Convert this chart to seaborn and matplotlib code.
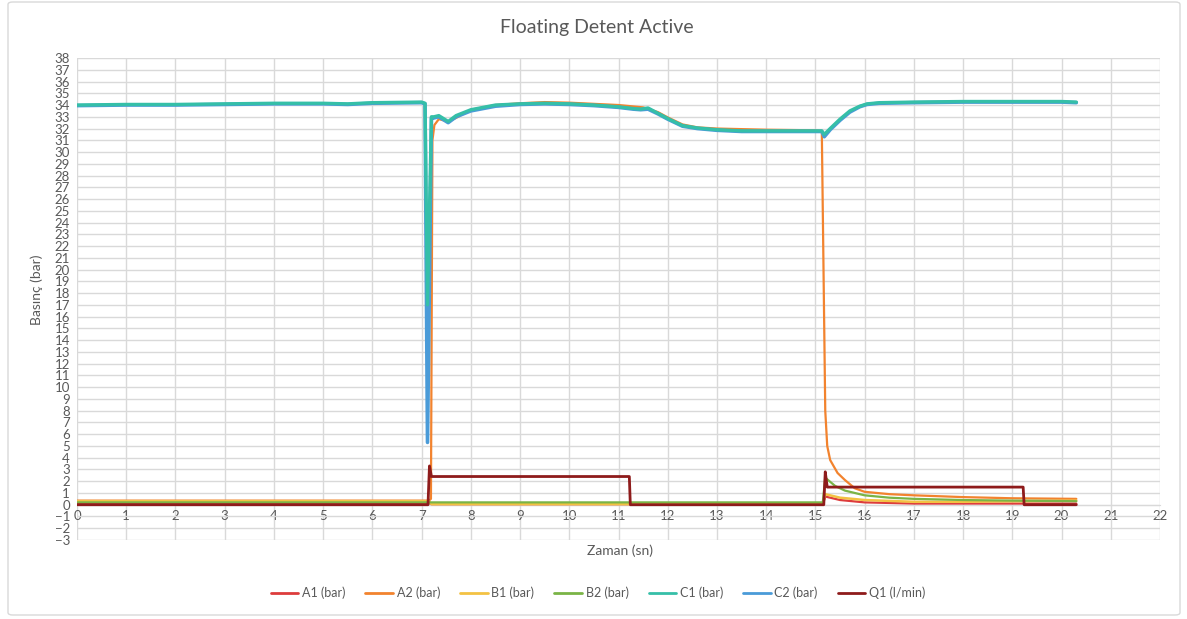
import numpy as np
import pandas as pd
import matplotlib
matplotlib.use("Agg")
import matplotlib.pyplot as plt
import seaborn as sns
from matplotlib.patches import FancyBboxPatch

# ---- data ----
t_c = [0, 1, 2, 3, 4, 5, 5.5, 6, 7.0, 7.07, 7.12, 7.2, 7.25, 7.35, 7.54, 7.7,
       8.0, 8.5, 9.0, 9.5, 10.0, 10.5, 11.0, 11.3, 11.45, 11.6, 11.8, 12.0,
       12.3, 12.6, 13.0, 13.5, 14.0, 14.5, 15.0, 15.13, 15.18, 15.3, 15.5,
       15.7, 15.9, 16.05, 16.3, 17, 18, 19, 20, 20.3]
c2_vals = [33.95, 34.0, 34.0, 34.05, 34.1, 34.1, 34.05, 34.15, 34.2, 34.1, 5.3, 32.9,
           32.9, 33.0, 32.5, 33.0, 33.5, 33.9, 34.05, 34.1, 34.05, 33.95, 33.8,
           33.65, 33.6, 33.65, 33.25, 32.8, 32.2, 32.0, 31.85, 31.75, 31.75,
           31.75, 31.75, 31.75, 31.3, 31.9, 32.7, 33.4, 33.85, 34.05, 34.15,
           34.2, 34.25, 34.25, 34.25, 34.2]
c1_vals = [34.0, 34.05, 34.05, 34.1, 34.15, 34.15, 34.1, 34.2, 34.25, 34.15, 17.0, 33.0,
           33.0, 33.1, 32.6, 33.1, 33.6, 34.0, 34.1, 34.15, 34.1, 34.0, 33.85,
           33.7, 33.65, 33.75, 33.3, 32.85, 32.25, 32.05, 31.9, 31.8, 31.8,
           31.8, 31.8, 31.8, 31.5, 32.0, 32.8, 33.5, 33.9, 34.1, 34.2,
           34.25, 34.3, 34.3, 34.3, 34.25]

t_a2 = [0, 7.15, 7.19, 7.22, 7.26, 7.35, 7.54, 7.7, 8.0, 8.5, 9.0, 9.5, 10, 10.5,
        11, 11.5, 11.8, 12.0, 12.3, 12.6, 13, 13.5, 14, 15, 15.13, 15.2, 15.24,
        15.3, 15.45, 15.6, 15.8, 16.0, 16.5, 17, 18, 19, 20.3]
a2_vals = [0.35, 0.35, 0.5, 31.0, 32.3, 32.8, 32.6, 32.9, 33.6, 34.0, 34.15, 34.25,
           34.2, 34.1, 34.0, 33.8, 33.4, 32.95, 32.35, 32.1, 32.0, 31.95, 31.9,
           31.85, 31.8, 8.0, 5.0, 3.8, 2.7, 2.1, 1.4, 1.1, 0.9, 0.8, 0.65, 0.55, 0.5]

t_a1 = [0, 7.15, 7.2, 15.15, 15.2, 15.5, 16.0, 17.0, 20.3]
a1_vals = [0.15, 0.15, 0.05, 0.05, 0.7, 0.4, 0.2, 0.1, 0.1]

t_b1 = [0, 7.15, 7.2, 15.15, 15.2, 15.5, 16.0, 17.0, 18.0, 20.3]
b1_vals = [0.3, 0.3, 0.05, 0.05, 0.9, 0.6, 0.4, 0.25, 0.25, 0.35]

t_b2 = [0, 7.15, 7.2, 15.15, 15.2, 15.4, 15.6, 16.0, 16.5, 17, 18, 19, 20.3]
b2_vals = [0.2, 0.2, 0.2, 0.2, 2.3, 1.6, 1.2, 0.8, 0.6, 0.5, 0.4, 0.35, 0.3]

t_q1 = [0, 7.13, 7.16, 7.2, 11.22, 11.24, 15.17, 15.2, 15.24, 19.22, 19.24, 20.3]
q1_vals = [0, 0, 3.3, 2.4, 2.4, 0, 0, 2.8, 1.5, 1.5, 0, 0]

series = ["A1 (bar)", "A2 (bar)", "B1 (bar)", "B2 (bar)", "C1 (bar)", "C2 (bar)", "Q1 (l/min)"]
colors = ["#DD3C3C", "#F2832E", "#F3C243", "#7AB446", "#35BFA8", "#4A9BD8", "#8E1B1B"]
x_ticks = list(range(0, 23))
y_ticks = list(range(-3, 39))

data = {
    "A1 (bar)": (t_a1, a1_vals),
    "A2 (bar)": (t_a2, a2_vals),
    "B1 (bar)": (t_b1, b1_vals),
    "B2 (bar)": (t_b2, b2_vals),
    "C1 (bar)": (t_c, c1_vals),
    "C2 (bar)": (t_c, c2_vals),
    "Q1 (l/min)": (t_q1, q1_vals),
}
widths = {"A1 (bar)": 1.6, "A2 (bar)": 1.6, "B1 (bar)": 1.8, "B2 (bar)": 1.6,
          "C1 (bar)": 2.4, "C2 (bar)": 2.6, "Q1 (l/min)": 2.0}
# teal band sits on top of the blue one, both above the A/B traces
zorders = {"C1 (bar)": 5, "C2 (bar)": 4, "Q1 (l/min)": 6}

sns.set_style("white")
plt.rcParams["font.family"] = ["Lato", "DejaVu Sans"]
txt = "#595959"
grid = "#D9D9D9"

fig = plt.figure(figsize=(11.87, 6.19), dpi=100)
ax = fig.add_axes([77 / 1187, 1 - 540 / 619, (1160 - 77) / 1187, (540 - 58) / 619])

for name, col in zip(series, colors):
    t, v = data[name]
    df = pd.DataFrame({"t": t, "v": v})
    sns.lineplot(data=df, x="t", y="v", ax=ax, color=col, lw=widths[name],
                 estimator=None, sort=False, label=name, zorder=zorders.get(name, 3))

ax.set_xlim(0, 22)
ax.set_ylim(-3, 38)
ax.set_xticks(x_ticks)
ax.set_yticks(y_ticks)
ax.grid(True, color=grid, lw=1)
ax.set_axisbelow(True)
for s in ["top", "right", "left"]:
    ax.spines[s].set_visible(False)
ax.spines["bottom"].set_position(("data", 0))
ax.spines["bottom"].set_color(grid)
ax.tick_params(axis="both", length=0, labelsize=9.5, colors=txt)
ax.tick_params(axis="x", pad=4)
ax.tick_params(axis="y", pad=5)

ax.set_xlabel("")
ax.set_ylabel("")
fig.text(620 / 1187, 1 - 551 / 619, "Zaman (sn)", ha="center", va="center", fontsize=10, color=txt)
fig.text(37 / 1187, 1 - 290 / 619, "Basınç (bar)", ha="center", va="center", rotation=90,
         fontsize=10, color=txt)
fig.text(597 / 1187, 1 - 28 / 619, "Floating Detent Active", ha="center", va="center",
         fontsize=14, color=txt)

handles, labels = ax.get_legend_handles_labels()
leg = ax.legend(handles, labels, loc="center", bbox_to_anchor=(598 / 1187, 1 - 593 / 619),
                bbox_transform=fig.transFigure, ncol=7, frameon=False, fontsize=9,
                handlelength=2.2, columnspacing=1.6, handletextpad=0.3)
for h in leg.get_lines():
    h.set_linewidth(2)
for tx in leg.get_texts():
    tx.set_color(txt)

border = FancyBboxPatch((8 / 1187, 1 - 615 / 619), (1180 - 8) / 1187, (615 - 2) / 619,
                        boxstyle="round,pad=0,rounding_size=0.004", transform=fig.transFigure,
                        facecolor="none", edgecolor="#D9D9D9", lw=1)
fig.patches.append(border)

fig.savefig("out.png", dpi=100)
